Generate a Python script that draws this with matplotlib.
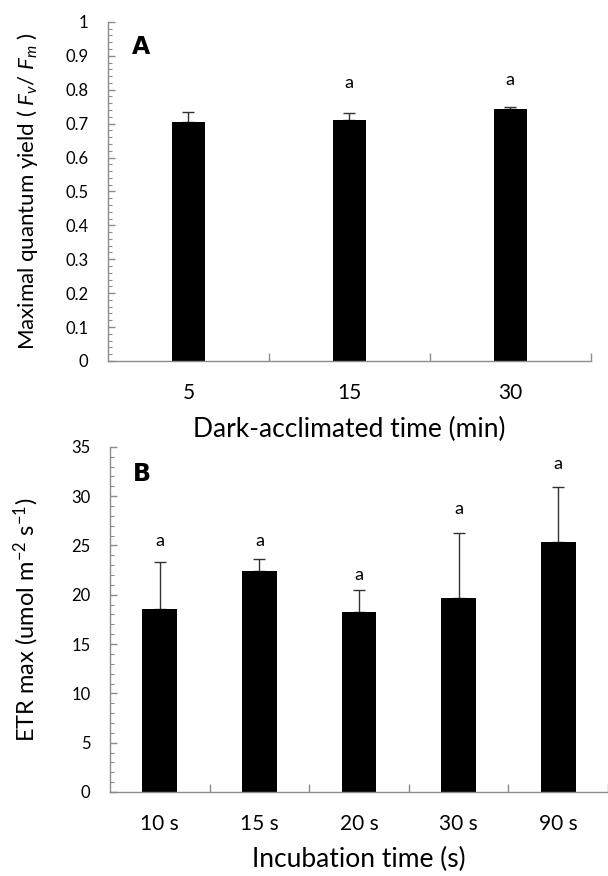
import numpy as np
import matplotlib
matplotlib.use('Agg')
import matplotlib.pyplot as plt
from matplotlib.ticker import MultipleLocator

plt.rcParams['font.family'] = ['Lato', 'DejaVu Sans']
plt.rcParams['mathtext.fontset'] = 'custom'
plt.rcParams['mathtext.it'] = 'Lato:italic'
plt.rcParams['mathtext.rm'] = 'Lato'

# Panel A: maximal quantum yield vs dark-acclimation time
dark_times = ['5', '15', '30']
fvfm_mean = [0.706, 0.711, 0.744]
fvfm_err = [0.027, 0.020, 0.004]
fvfm_letters = ['', 'a', 'a']
fvfm_letter_y = [0.0, 0.795, 0.805]
fvfm_ticks = [0, 0.1, 0.2, 0.3, 0.4, 0.5, 0.6, 0.7, 0.8, 0.9, 1]
fvfm_ticklabels = ['0', '0.1', '0.2', '0.3', '0.4', '0.5', '0.6', '0.7',
                   '0.8', '0.9', '1']

# Panel B: ETR max vs incubation time
incub_times = ['10 s', '15 s', '20 s', '30 s', '90 s']
etr_mean = [18.6, 22.4, 18.3, 19.7, 25.4]
etr_err = [4.7, 1.25, 2.15, 6.6, 5.5]
etr_letters = ['a', 'a', 'a', 'a', 'a']
etr_letter_y = [24.6, 24.6, 21.2, 27.9, 32.4]

axis_grey = '#8c8c8c'


def style_axes(ax, n):
    for s in ['top', 'right']:
        ax.spines[s].set_visible(False)
    for s in ['left', 'bottom']:
        ax.spines[s].set_color(axis_grey)
        ax.spines[s].set_linewidth(1.0)
    ax.set_xlim(-0.5, n - 0.5)
    ax.set_xticks(np.arange(n))
    ax.tick_params(axis='x', length=0, pad=16, labelsize=15)
    ax.set_xticks(np.arange(n) + 0.5, minor=True)
    ax.tick_params(axis='x', which='minor', direction='in', length=6,
                   color=axis_grey, width=1.0)
    ax.tick_params(axis='y', which='major', direction='in', length=5,
                   color=axis_grey, width=1.0, labelsize=12, pad=14)
    ax.tick_params(axis='y', which='minor', direction='in', length=3,
                   color=axis_grey, width=0.8)


fig = plt.figure(figsize=(6.08, 8.76), dpi=100)

# ---- panel A
axA = fig.add_axes([0.1776, 0.588, 0.794, 0.387])
xa = np.arange(len(dark_times))
axA.bar(xa, fvfm_mean, width=0.205, color='black', zorder=2)
axA.errorbar(xa, fvfm_mean, yerr=[np.zeros(len(xa)), fvfm_err], fmt='none',
             ecolor='#333333', elinewidth=1.0, capsize=4, capthick=1.0, zorder=1)
for x, t, y in zip(xa, fvfm_letters, fvfm_letter_y):
    if t:
        axA.text(x, y, t, ha='center', va='bottom', fontsize=13)
style_axes(axA, len(dark_times))
axA.set_xticklabels(dark_times)
axA.set_ylim(0, 1)
axA.set_yticks(fvfm_ticks)
axA.set_yticklabels(fvfm_ticklabels)
axA.yaxis.set_minor_locator(MultipleLocator(0.02))
axA.set_xlabel('Dark-acclimated time (min)', fontsize=19, labelpad=10)
axA.set_ylabel(r'Maximal quantum yield ( $\mathit{F_v}$/ $\mathit{F_m}$ )',
               fontsize=16, labelpad=18)
axA.text(0.05, 0.962, 'A', transform=axA.transAxes, fontsize=17,
         fontweight='bold', family='DejaVu Sans', va='top')

# ---- panel B
axB = fig.add_axes([0.181, 0.0959, 0.819, 0.394])
xb = np.arange(len(incub_times))
axB.bar(xb, etr_mean, width=0.35, color='black', zorder=2)
axB.errorbar(xb, etr_mean, yerr=[np.zeros(len(xb)), etr_err], fmt='none',
             ecolor='#333333', elinewidth=1.0, capsize=4, capthick=1.0, zorder=1)
for x, t, y in zip(xb, etr_letters, etr_letter_y):
    axB.text(x, y, t, ha='center', va='bottom', fontsize=13)
style_axes(axB, len(incub_times))
axB.set_xticklabels(incub_times)
axB.set_ylim(0, 35)
axB.yaxis.set_major_locator(MultipleLocator(5))
axB.yaxis.set_minor_locator(MultipleLocator(1))
axB.set_xlabel('Incubation time (s)', fontsize=19, labelpad=9)
axB.set_ylabel(r'ETR max (umol m$^{-2}$ s$^{-1}$)', fontsize=17, labelpad=22)
axB.text(0.046, 0.955, 'B', transform=axB.transAxes, fontsize=17,
         fontweight='bold', family='DejaVu Sans', va='top')

fig.savefig('out.png', dpi=100)
